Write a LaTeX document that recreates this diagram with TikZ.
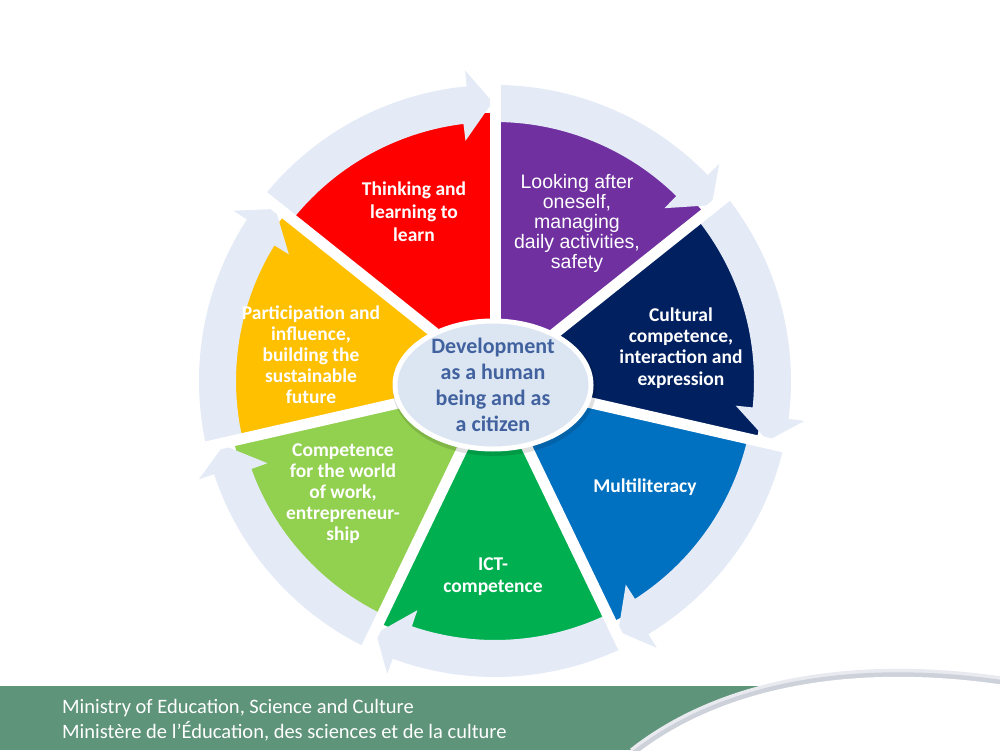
\documentclass[tikz,border=0pt]{standalone}
\usepackage{fontspec}
\setmainfont{Carlito}
\newfontfamily\arialf{Liberation Sans}
\definecolor{segred}{HTML}{FF0000}
\definecolor{segpurple}{HTML}{7030A0}
\definecolor{segnavy}{HTML}{002060}
\definecolor{segblue}{HTML}{0070C0}
\definecolor{seggreen}{HTML}{00B050}
\definecolor{seglime}{HTML}{92D050}
\definecolor{segyellow}{HTML}{FFC000}
\definecolor{palearr}{RGB}{228,235,247}
\definecolor{hubfill}{RGB}{220,230,243}
\definecolor{hubtext}{RGB}{65,98,158}
\definecolor{footgreen}{RGB}{94,148,121}
\definecolor{swoosh}{RGB}{205,209,218}
\definecolor{swooshlight}{RGB}{232,234,239}
\newcommand\wheelseg[3]{\fill[#1] (0,0) -- (#2:268pt) arc[start angle=#2, end angle=#3, radius=268pt] -- cycle;}
\newcommand\palearrow[2]{\fill[palearr] (#1:259pt) arc[start angle=#1, end angle={#2+7}, radius=259pt] -- ({#2+7}:242pt) -- ({#2+0.5}:279pt) -- ({#2+5.5}:312pt) -- ({#2+5.5}:296pt) arc[start angle={#2+5.5}, end angle=#1, radius=296pt] -- cycle;}
\begin{document}
\begin{tikzpicture}[x=1pt,y=1pt,
  segtext/.style={text=white, align=center, inner sep=0pt},
  calib/.style={font=\fontsize{19.5pt}{#1}\selectfont\bfseries},
  foottext/.style={text=white, anchor=base west, inner sep=0pt, font=\fontsize{20.5pt}{24pt}\selectfont}]
\useasboundingbox (0,0) rectangle (1000,750);
\fill[white] (0,0) rectangle (1000,750);
% footer band
\fill[footgreen] (0,0) rectangle (1000,64);
\draw[swooshlight, line width=16pt] (635,-5) .. controls (720,62) and (850,88) .. (1005,65);
\draw[swoosh, line width=9pt] (635,-5) .. controls (720,62) and (850,88) .. (1005,65);
\fill[white] (635,-5) .. controls (720,62) and (850,88) .. (1005,65) -- (1005,-5) -- cycle;
\node[foottext] (f1) at (62,37) {Ministry of Education, Science and Culture};
\node[foottext] (f2) at (62,12) {Ministère de l’Éducation, des sciences et de la culture};
% wheel
\begin{scope}[shift={(495,369)}]
  \wheelseg{segred}{141.429}{90}
  \wheelseg{segpurple}{90}{38.571}
  \wheelseg{segnavy}{38.571}{-12.857}
  \wheelseg{segblue}{-12.857}{-64.286}
  \wheelseg{seggreen}{-64.286}{-115.714}
  \wheelseg{seglime}{-115.714}{-167.143}
  \wheelseg{segyellow}{192.857}{141.429}
  \palearrow{141.429}{90}
  \palearrow{90}{38.571}
  \palearrow{38.571}{-12.857}
  \palearrow{-12.857}{-64.286}
  \palearrow{-64.286}{-115.714}
  \palearrow{-115.714}{-167.143}
  \palearrow{192.857}{141.429}
  \foreach \a in {90,38.571,-12.857,-64.286,-115.714,-167.143,141.429}
    \draw[white, line width=11pt] (0,0) -- (\a:325pt);
  % hub
  \fill[black, opacity=0.12] (-0.5,-7) ellipse[x radius=102pt, y radius=68pt];
  \fill[hubfill, draw=white, line width=5pt] (-2,-4) ellipse[x radius=98pt, y radius=64pt];
\end{scope}
% labels
\node[segtext, calib=23pt] (t1) at (414,538) {Thinking and\\learning to\\learn};
\node[segtext, font=\arialf\fontsize{19.5pt}{20pt}\selectfont] (t2) at (577,527) {Looking after\\oneself,\\managing\\daily activities,\\safety};
\node[segtext, calib=21.3pt] (t3) at (681,402) {Cultural\\competence,\\interaction and\\expression};
\node[segtext, calib=22pt] (t4) at (645,263) {Multiliteracy};
\node[segtext, calib=22pt] (t5) at (493,173) {ICT-\\competence};
\node[segtext, calib=21pt] (t6) at (343,256) {Competence\\for the world\\of work,\\entrepreneur-\\ship};
\node[segtext, calib=21pt] (t7) at (311,395) {Participation and\\influence,\\building the\\sustainable\\future};
\node[align=center, inner sep=0pt, text=hubtext, font=\fontsize{22pt}{26pt}\selectfont\bfseries] (hub) at (493,365) {Development\\as a human\\being and as\\a citizen};
\end{tikzpicture}
\end{document}
